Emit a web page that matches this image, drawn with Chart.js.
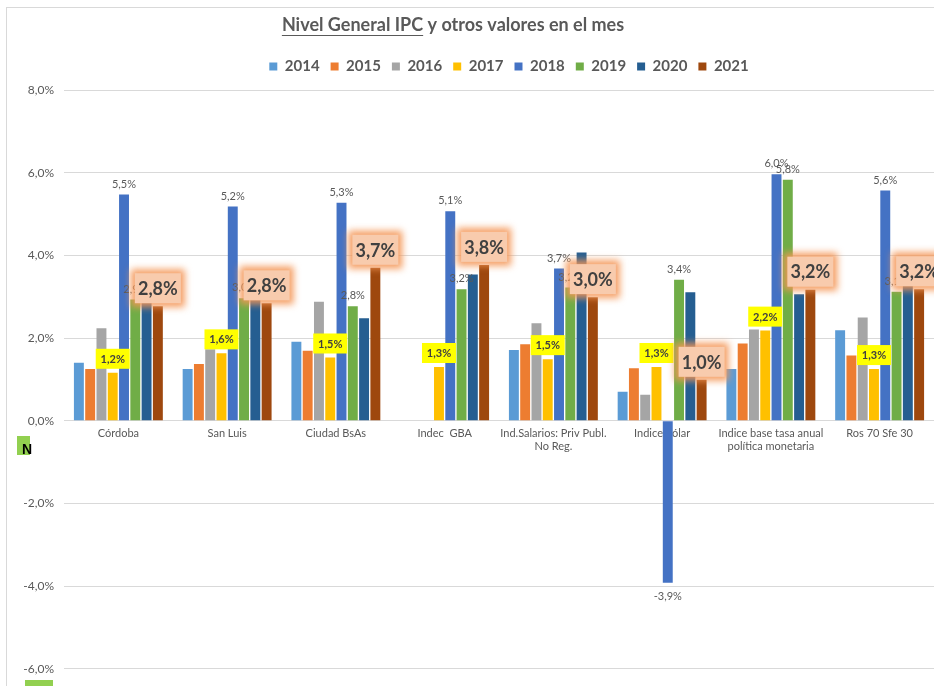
<!DOCTYPE html>
<html>
<head>
<meta charset="utf-8">
<script src="https://cdn.jsdelivr.net/npm/chart.js@4.4.1/dist/chart.umd.min.js"></script>
<style>
  html, body { margin: 0; padding: 0; background: #fff; }
  #wrap { position: relative; width: 934px; height: 686px; overflow: hidden; }
  #frame { position: absolute; left: 6px; top: 7px; width: 940px; height: 700px;
           border-left: 1px solid #d9d9d9; border-top: 1px solid #d9d9d9; pointer-events: none; }
  #c { position: absolute; left: 0; top: 0; }
  .green { position: absolute; background: #92d050; }
  #nmark { position: absolute; left: 22px; top: 441px; font: bold 14px "Liberation Sans", Arial, sans-serif; color: #000; }
</style>
</head>
<body>
<div id="wrap">
  <canvas id="c" width="934" height="686"></canvas>
  <div id="frame"></div>
  <div class="green" style="left:17px;top:436px;width:13px;height:19px;"></div>
  <div id="nmark">N</div>
  <div class="green" style="left:25px;top:680px;width:28px;height:6px;"></div>
</div>
<script>
// ---------- DATA ----------
const categories = ['Córdoba', 'San Luis', 'Ciudad BsAs', 'Indec  GBA',
  ['Ind.Salarios: Priv Publ.', 'No Reg.'], 'Indice dólar',
  ['Indice base tasa anual', 'política monetaria'], 'Ros 70 Sfe 30'];
const years = ['2014', '2015', '2016', '2017', '2018', '2019', '2020', '2021'];
const v2014 = [1.40, 1.25, 1.91, null, 1.71, 0.70, 1.25, 2.19];
const v2015 = [1.25, 1.37, 1.69, null, 1.85, 1.27, 1.87, 1.58];
const v2016 = [2.24, 1.73, 2.88, null, 2.36, 0.63, 2.21, 2.50];
const v2017 = [1.16, 1.63, 1.53, 1.30, 1.49, 1.30, 2.18, 1.25];
const v2018 = [5.47, 5.18, 5.27, 5.07, 3.68, -3.92, 5.96, 5.57];
const v2019 = [2.93, 2.96, 2.77, 3.18, 3.22, 3.41, 5.83, 3.12];
const v2020 = [3.55, 2.95, 2.48, 3.54, 4.07, 3.11, 3.06, 3.28];
const v2021 = [2.77, 2.84, 3.70, 3.77, 2.99, 0.99, 3.17, 3.18];
const yTicks = [-6, -4, -2, 0, 2, 4, 6, 8];
const colors = ['#5b9bd5', '#ed7d31', '#a5a5a5', '#ffc000', '#4472c4', '#70ad47', '#255e91', '#9e480e'];
const titleMain = 'Nivel General IPC';
const titleRest = ' y otros valores en el mes';
// ---------------------------

const series = [v2014, v2015, v2016, v2017, v2018, v2019, v2020, v2021];
const FONT = 'Lato, "Open Sans", sans-serif';
const fmt = v => v.toFixed(1).replace('.', ',') + '%';

const labelPlugin = {
  id: 'customLabels',
  beforeUpdate(chart) {
    const lg = chart.legend;
    if (lg && !lg._patched) {
      const orig = lg.fit;
      lg.fit = function () { orig.call(this); this.height += 6; };
      lg._patched = true;
    }
  },
  afterLayout(chart) {
    const lg = chart.legend;
    if (lg) { lg.left += 10; lg.right += 10; }
  },
  afterDatasetsDraw(chart) {
    const ctx = chart.ctx;
    ctx.save();
    // gray labels for 2018 and 2019
    [4, 5].forEach(di => {
      const meta = chart.getDatasetMeta(di);
      meta.data.forEach((bar, j) => {
        const v = series[di][j];
        if (v == null) return;
        ctx.font = '11px ' + FONT;
        ctx.fillStyle = '#595959';
        ctx.textAlign = 'center';
        if (v >= 0) {
          ctx.textBaseline = 'bottom';
          ctx.fillText(fmt(v), bar.x, bar.y - 5);
        } else {
          ctx.textBaseline = 'top';
          ctx.fillText(fmt(v), bar.x, bar.y + 8);
        }
      });
    });
    // yellow boxes for 2017
    {
      const meta = chart.getDatasetMeta(3);
      meta.data.forEach((bar, j) => {
        const v = series[3][j];
        if (v == null) return;
        const w = 34, h = 20;
        const cx = bar.x, cy = bar.y - 4 - h / 2;
        ctx.fillStyle = '#ffff00';
        ctx.fillRect(cx - w / 2, cy - h / 2, w, h);
        ctx.font = 'bold 11px ' + FONT;
        ctx.fillStyle = '#404040';
        ctx.textAlign = 'center';
        ctx.textBaseline = 'middle';
        ctx.fillText(fmt(v), cx, cy + 0.5);
      });
    }
    // peach glowing boxes for 2021
    {
      const meta = chart.getDatasetMeta(7);
      meta.data.forEach((bar, j) => {
        const v = series[7][j];
        if (v == null) return;
        const w = 46, h = 30;
        const cx = bar.x, cy = bar.y - 18;
        ctx.save();
        ctx.filter = 'blur(3.5px)';
        ctx.fillStyle = 'rgba(244,150,85,0.9)';
        ctx.fillRect(cx - w / 2 - 4, cy - h / 2 - 4, w + 8, h + 8);
        ctx.restore();
        ctx.fillStyle = '#f8cbad';
        ctx.fillRect(cx - w / 2, cy - h / 2, w, h);
        ctx.font = 'bold 18px ' + FONT;
        ctx.fillStyle = '#404040';
        ctx.textAlign = 'center';
        ctx.textBaseline = 'middle';
        ctx.fillText(fmt(v), cx, cy + 1);
      });
    }
    ctx.restore();
  },
  afterDraw(chart) {
    const ctx = chart.ctx;
    ctx.save();
    ctx.font = 'bold 18px ' + FONT;
    ctx.fillStyle = '#595959';
    ctx.textBaseline = 'middle';
    ctx.textAlign = 'left';
    const full = ctx.measureText(titleMain + titleRest).width;
    const wMain = ctx.measureText(titleMain).width;
    const cx = 453, cy = 25;
    const x0 = cx - full / 2;
    ctx.fillText(titleMain + titleRest, x0, cy);
    ctx.strokeStyle = '#595959';
    ctx.lineWidth = 1;
    ctx.beginPath();
    ctx.moveTo(x0, cy + 10.5);
    ctx.lineTo(x0 + wMain, cy + 10.5);
    ctx.stroke();
    ctx.restore();
  }
};

new Chart(document.getElementById('c'), {
  type: 'bar',
  data: {
    labels: categories,
    datasets: years.map((y, i) => ({
      label: y,
      data: series[i],
      backgroundColor: colors[i],
      borderWidth: 0,
      categoryPercentage: 0.83,
      barPercentage: 0.88
    }))
  },
  options: {
    responsive: false,
    animation: false,
    layout: { padding: { top: 48, bottom: 16, left: 0, right: 0 } },
    plugins: {
      title: { display: false },
      tooltip: { enabled: false },
      legend: {
        display: true,
        position: 'top',
        fullSize: false,
        labels: {
          boxWidth: 8, boxHeight: 8, padding: 11,
          color: '#595959',
          font: { family: FONT, size: 15, weight: 'bold' }
        }
      }
    },
    scales: {
      x: {
        type: 'category',
        position: { y: 0 },
        grid: { display: false, drawTicks: false },
        border: { display: false },
        ticks: {
          autoSkip: false, maxRotation: 0, minRotation: 0, padding: 6,
          color: '#595959', font: { family: FONT, size: 11 }
        },
        afterFit(scale) { scale.height = 0; }
      },
      y: {
        min: -6, max: 8,
        afterBuildTicks(scale) { scale.ticks = yTicks.map(v => ({ value: v })); },
        grid: { color: '#d9d9d9', drawTicks: false, lineWidth: 1 },
        border: { display: false },
        ticks: {
          padding: 10, color: '#595959', font: { family: FONT, size: 12 },
          callback: v => v.toFixed(1).replace('.', ',') + '%'
        },
        afterFit(scale) { scale.width = 64; }
      }
    }
  },
  plugins: [labelPlugin]
});
</script>
</body>
</html>
